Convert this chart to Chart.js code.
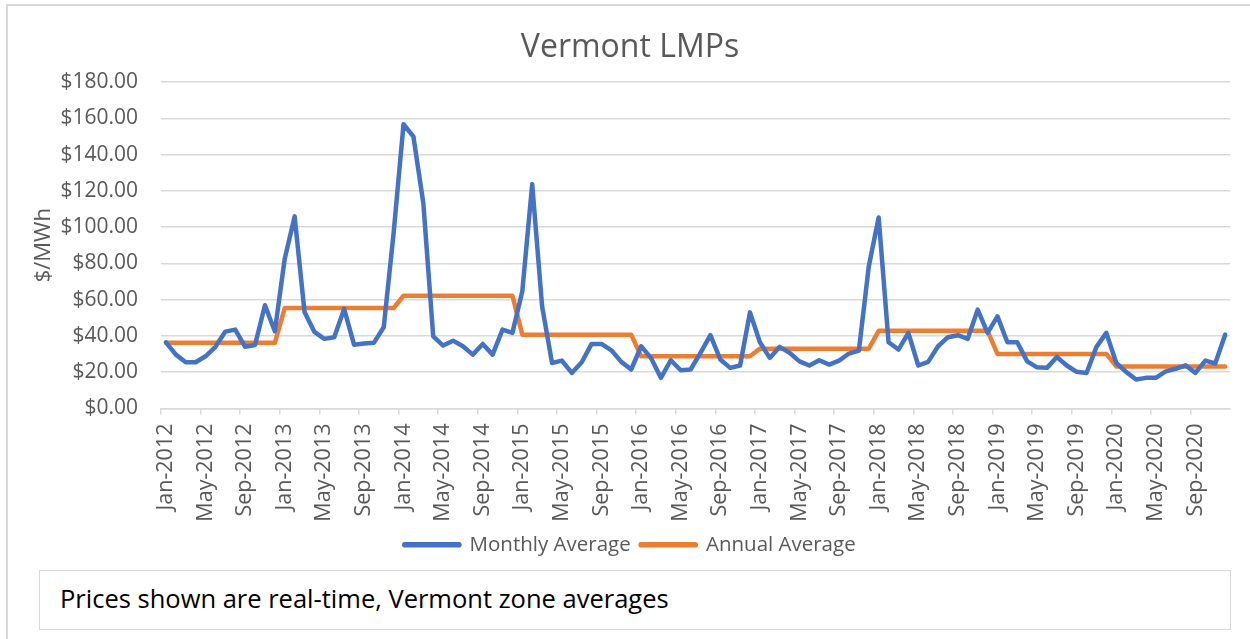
<!DOCTYPE html>
<html lang="en">
<head>
  <meta charset="UTF-8" />
  <title>Vermont LMPs</title>
  <script src="https://cdn.jsdelivr.net/npm/chart.js"></script>
  <style>
    body {
      margin: 0;
      background: #ffffff;
      font-family: 'Open Sans', sans-serif;
      overflow: hidden;
      width: 1250px;
      height: 639px;
      position: relative;
    }

    .frame {
      position: absolute;
      left: 6px;
      top: 4px;
      width: 1400px;
      height: 800px;
      border: 2px solid #d9d9d9;
    }

    #lmpChart {
      position: absolute;
      left: 8px;
      top: 6px;
    }

    .note-box {
      position: absolute;
      left: 39px;
      top: 570px;
      width: 1190px;
      height: 58px;
      border: 1.5px solid #d9d9d9;
    }

    .note-text {
      position: absolute;
      left: 60px;
      top: 586px;
      font-size: 25.5px;
      line-height: 25.5px;
      color: #000000;
      white-space: nowrap;
    }
  </style>
</head>
<body>

  <div class="frame"></div>
  <canvas id="lmpChart" width="1252" height="559"></canvas>
  <div class="note-box"></div>
  <div class="note-text">Prices shown are real-time, Vermont zone averages</div>

  <script>
    const monthNames = ['Jan', 'Feb', 'Mar', 'Apr', 'May', 'Jun', 'Jul', 'Aug', 'Sep', 'Oct', 'Nov', 'Dec'];
    const years = [2012, 2013, 2014, 2015, 2016, 2017, 2018, 2019, 2020];

    // $/MWh, one value per month, Jan-2012 .. Dec-2020
    const monthlyAvg = [
      36.5, 29.7, 25.5, 25.5, 28.8, 34.0, 42.4, 43.5, 34.0, 35.0, 56.9, 42.6,      // 2012
      82.6, 105.9, 53.2, 42.2, 38.4, 39.3, 54.9, 35.2, 35.8, 36.2, 44.8, 96.7,     // 2013
      156.7, 149.9, 113.2, 39.8, 34.7, 37.4, 34.3, 29.7, 35.6, 29.7, 43.5, 41.7,   // 2014
      64.6, 123.7, 56.3, 25.1, 26.4, 19.6, 25.5, 35.6, 35.6, 32.1, 25.7, 21.5,     // 2015
      34.3, 27.9, 16.9, 26.6, 21.1, 21.5, 30.7, 40.4, 27.0, 22.4, 23.7, 53.0,      // 2016
      36.5, 27.9, 34.0, 30.7, 26.0, 23.7, 26.6, 24.2, 26.4, 30.3, 31.9, 78.3,      // 2017
      105.3, 36.5, 32.5, 41.7, 23.7, 25.7, 34.3, 39.3, 40.4, 38.4, 54.5, 41.7,     // 2018
      50.8, 36.5, 36.5, 26.0, 22.7, 22.4, 28.4, 23.7, 20.2, 19.6, 34.0, 41.7,      // 2019
      25.1, 20.2, 16.0, 16.9, 16.9, 20.5, 21.9, 23.8, 19.6, 26.4, 24.8, 40.7       // 2020
    ];

    // one value per year, 2012 .. 2020
    const annualAvg = [36.2, 55.4, 62.2, 40.7, 28.8, 33.0, 42.8, 30.1, 23.2];

    const labels = years.flatMap(y => monthNames.map(m => m + '-' + y));
    const annualSeries = labels.map((_, i) => annualAvg[Math.floor(i / 12)]);

    const gray = '#595959';
    const gridGray = '#d9d9d9';

    Chart.defaults.font.family = "'Open Sans', sans-serif";

    new Chart(document.getElementById('lmpChart'), {
      type: 'line',
      data: {
        labels: labels,
        datasets: [{
          label: 'Monthly Average',
          data: monthlyAvg,
          borderColor: '#4472C4',
          backgroundColor: '#4472C4',
          borderWidth: 4.5,
          borderJoinStyle: 'round',
          borderCapStyle: 'round',
          pointRadius: 0,
          tension: 0
        }, {
          label: 'Annual Average',
          data: annualSeries,
          borderColor: '#ED7D31',
          backgroundColor: '#ED7D31',
          borderWidth: 4.5,
          borderJoinStyle: 'round',
          borderCapStyle: 'round',
          pointRadius: 0,
          tension: 0
        }]
      },
      options: {
        responsive: false,
        animation: false,
        layout: { padding: { left: 6, right: 14, top: 0, bottom: 0 } },
        plugins: {
          title: {
            display: true,
            text: 'Vermont LMPs',
            color: gray,
            font: { size: 32, weight: 'normal' },
            padding: { top: 22.8, bottom: 14.8 }
          },
          legend: {
            position: 'bottom',
            labels: { boxWidth: 55, boxHeight: 1, padding: 10, color: gray, font: { size: 20.5 } }
          },
          tooltip: { enabled: false }
        },
        scales: {
          x: {
            offset: true,
            grid: {
              offset: true,
              drawOnChartArea: false,
              tickLength: 6,
              lineWidth: 1.5,
              color: ctx => ctx.index % 4 === 0 ? gridGray : 'rgba(0,0,0,0)'
            },
            border: { color: gridGray, width: 1.5 },
            ticks: {
              autoSkip: false,
              minRotation: 90,
              maxRotation: 90,
              padding: 9,
              color: gray,
              font: { size: 21.5 },
              callback: (v, i) => i % 4 === 0 ? labels[i] : ''
            },
            afterFit: s => { s.height = 116; }
          },
          y: {
            min: 0,
            max: 180,
            ticks: {
              stepSize: 20,
              padding: 23,
              color: gray,
              font: { size: 21 },
              callback: v => '$' + v.toFixed(2)
            },
            grid: { color: gridGray, lineWidth: 1.5, drawTicks: false },
            border: { display: false },
            title: {
              display: true,
              text: '$/MWh',
              color: gray,
              font: { size: 22 },
              padding: { top: 17, bottom: 0 }
            },
            afterFit: s => { s.width = 147; }
          }
        }
      }
    });
  </script>

</body>
</html>
